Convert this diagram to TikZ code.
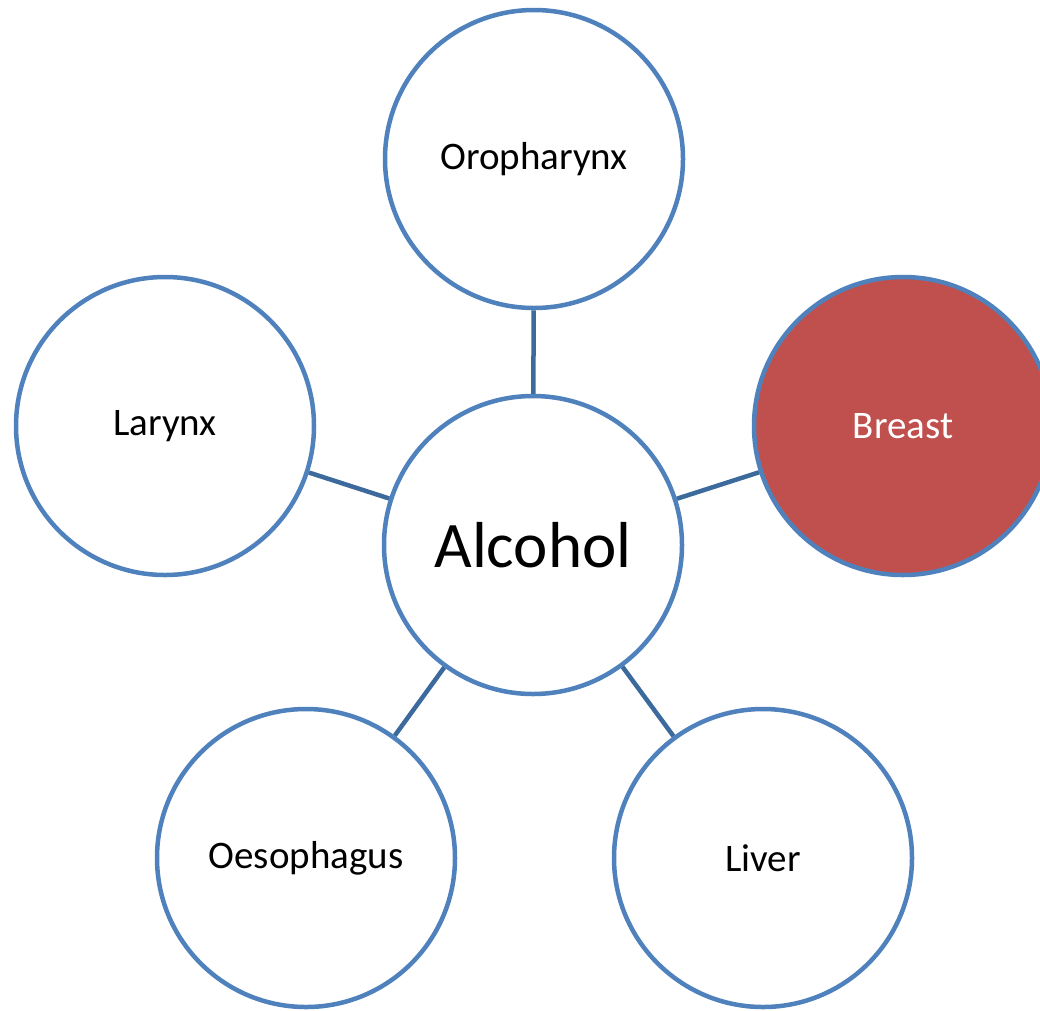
\documentclass[tikz,border=0pt]{standalone}
\usepackage{fontspec}
\setmainfont{Carlito}
\definecolor{ringblue}{HTML}{4F81BD}
\definecolor{linkblue}{HTML}{3D6A9C}
\definecolor{breastred}{HTML}{C0504D}
\begin{document}
\begin{tikzpicture}[x=1pt,y=-1pt,
  topic/.style={circle,draw=ringblue,line width=4.5pt,fill=white,minimum size=298pt,inner sep=0pt,font=\fontsize{39}{47}\selectfont},
  hub/.style={topic,font=\fontsize{65}{78}\selectfont},
  link/.style={draw=linkblue,line width=4.5pt}]
\useasboundingbox (0,0) rectangle (1040,1010);
\clip (0,0) rectangle (1040,1010);
\node[hub] (alc) at (533,545) {Alcohol};
\node[topic] (oro) at (534,159) {Oropharynx};
\node[topic] (lar) at (165,426) {Larynx};
\node[topic,fill=breastred,text=white] (bre) at (903,426) {Breast};
\node[topic] (oes) at (306,858) {Oesophagus};
\node[topic] (liv) at (763,858) {Liver};
\draw[link] (alc) -- (oro);
\draw[link] (alc) -- (lar);
\draw[link] (alc) -- (bre);
\draw[link] (alc) -- (oes);
\draw[link] (alc) -- (liv);
\end{tikzpicture}
\end{document}
